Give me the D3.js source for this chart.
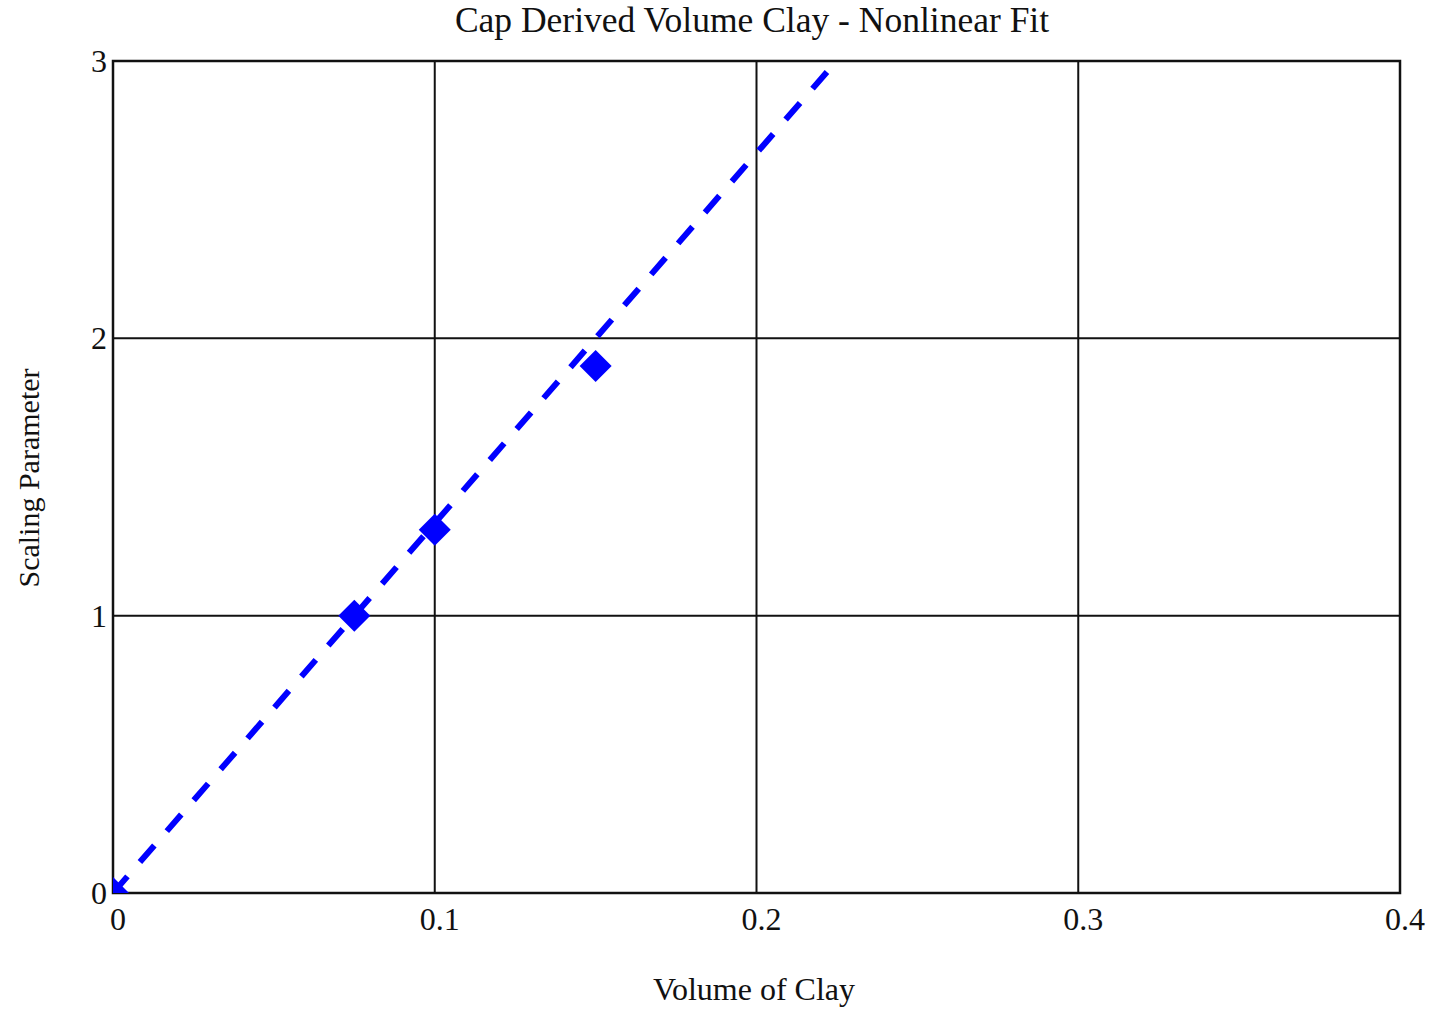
<!DOCTYPE html>
<html>
<head>
<meta charset="utf-8">
<script src="https://cdn.jsdelivr.net/npm/d3@7"></script>
<style>
  body { margin: 0; background: #fff; }
  text { font-family: "Liberation Serif", "Times New Roman", serif; fill: #111; }
</style>
</head>
<body>
<div id="chart"></div>
<script>
// measured points (volume of clay vs scaling parameter)
const clayPoints = [0, 0.075, 0.1, 0.15];
const scalingPoints = [0, 1.0, 1.31, 1.9];

// fitted curve
const fitX = [0, 0.075, 0.15, 0.2245];
const fitY = [0, 1.0, 2.0, 2.995];

const xTicks = [0, 0.1, 0.2, 0.3, 0.4];
const yTicks = [0, 1, 2, 3];

const title = 'Cap Derived Volume Clay - Nonlinear Fit';
const xTitle = 'Volume of Clay';
const yTitle = 'Scaling Parameter';

const W = 1435, H = 1010;
const margin = {top: 61, right: 35, bottom: 117, left: 113};
const width = W - margin.left - margin.right,
  height = H - margin.top - margin.bottom;

const svg = d3.select('#chart').append('svg')
  .attr('width', W)
  .attr('height', H);

const x = d3.scaleLinear().domain([0, 0.4]).range([0, width]);
const y = d3.scaleLinear().domain([0, 3]).range([height, 0]);

const g = svg.append('g').attr('transform', `translate(${margin.left},${margin.top})`);

g.append('clipPath').attr('id', 'plot-clip')
  .append('rect').attr('width', width).attr('height', height);

// grid lines
g.append('g').selectAll('line')
  .data(xTicks.slice(1, -1)).enter().append('line')
    .attr('x1', d => x(d)).attr('x2', d => x(d))
    .attr('y1', 0).attr('y2', height)
    .style('stroke', '#111').style('stroke-width', 2);

g.append('g').selectAll('line')
  .data(yTicks.slice(1, -1)).enter().append('line')
    .attr('x1', 0).attr('x2', width)
    .attr('y1', d => y(d)).attr('y2', d => y(d))
    .style('stroke', '#111').style('stroke-width', 2);

// frame
g.append('rect')
  .attr('width', width).attr('height', height)
  .style('fill', 'none').style('stroke', '#111').style('stroke-width', 2.5);

const plot = g.append('g').attr('clip-path', 'url(#plot-clip)');

// fit line
const fitData = fitX.map((v, i) => [v, fitY[i]]);
plot.append('path')
  .datum(fitData)
  .attr('d', d3.line().x(d => x(d[0])).y(d => y(d[1])))
  .style('fill', 'none')
  .style('stroke', '#0000ff')
  .style('stroke-width', 6)
  .style('stroke-dasharray', '22,19');

// data markers (diamonds)
plot.append('g').selectAll('path')
  .data(clayPoints.map((v, i) => [v, scalingPoints[i]])).enter().append('path')
    .attr('transform', d => `translate(${x(d[0])},${y(d[1])})`)
    .attr('d', 'M0,-16L16,0L0,16L-16,0Z')
    .style('fill', '#0000ff');

// x tick labels
g.append('g').selectAll('text')
  .data(xTicks).enter().append('text')
    .attr('x', d => x(d) + 5)
    .attr('y', height + 37)
    .attr('text-anchor', 'middle')
    .style('font-size', '32px')
    .text(d => d3.format('')(d));

// y tick labels
g.append('g').selectAll('text')
  .data(yTicks).enter().append('text')
    .attr('x', -6)
    .attr('y', d => y(d) + 11)
    .attr('text-anchor', 'end')
    .style('font-size', '32px')
    .text(d => d);

// titles
svg.append('text')
  .attr('x', 752).attr('y', 32)
  .attr('text-anchor', 'middle')
  .style('font-size', '35.5px')
  .text(title);

svg.append('text')
  .attr('x', 754).attr('y', 1000)
  .attr('text-anchor', 'middle')
  .style('font-size', '32px')
  .text(xTitle);

svg.append('text')
  .attr('transform', 'translate(39,478) rotate(-90)')
  .attr('text-anchor', 'middle')
  .style('font-size', '30px')
  .text(yTitle);
</script>
</body>
</html>
